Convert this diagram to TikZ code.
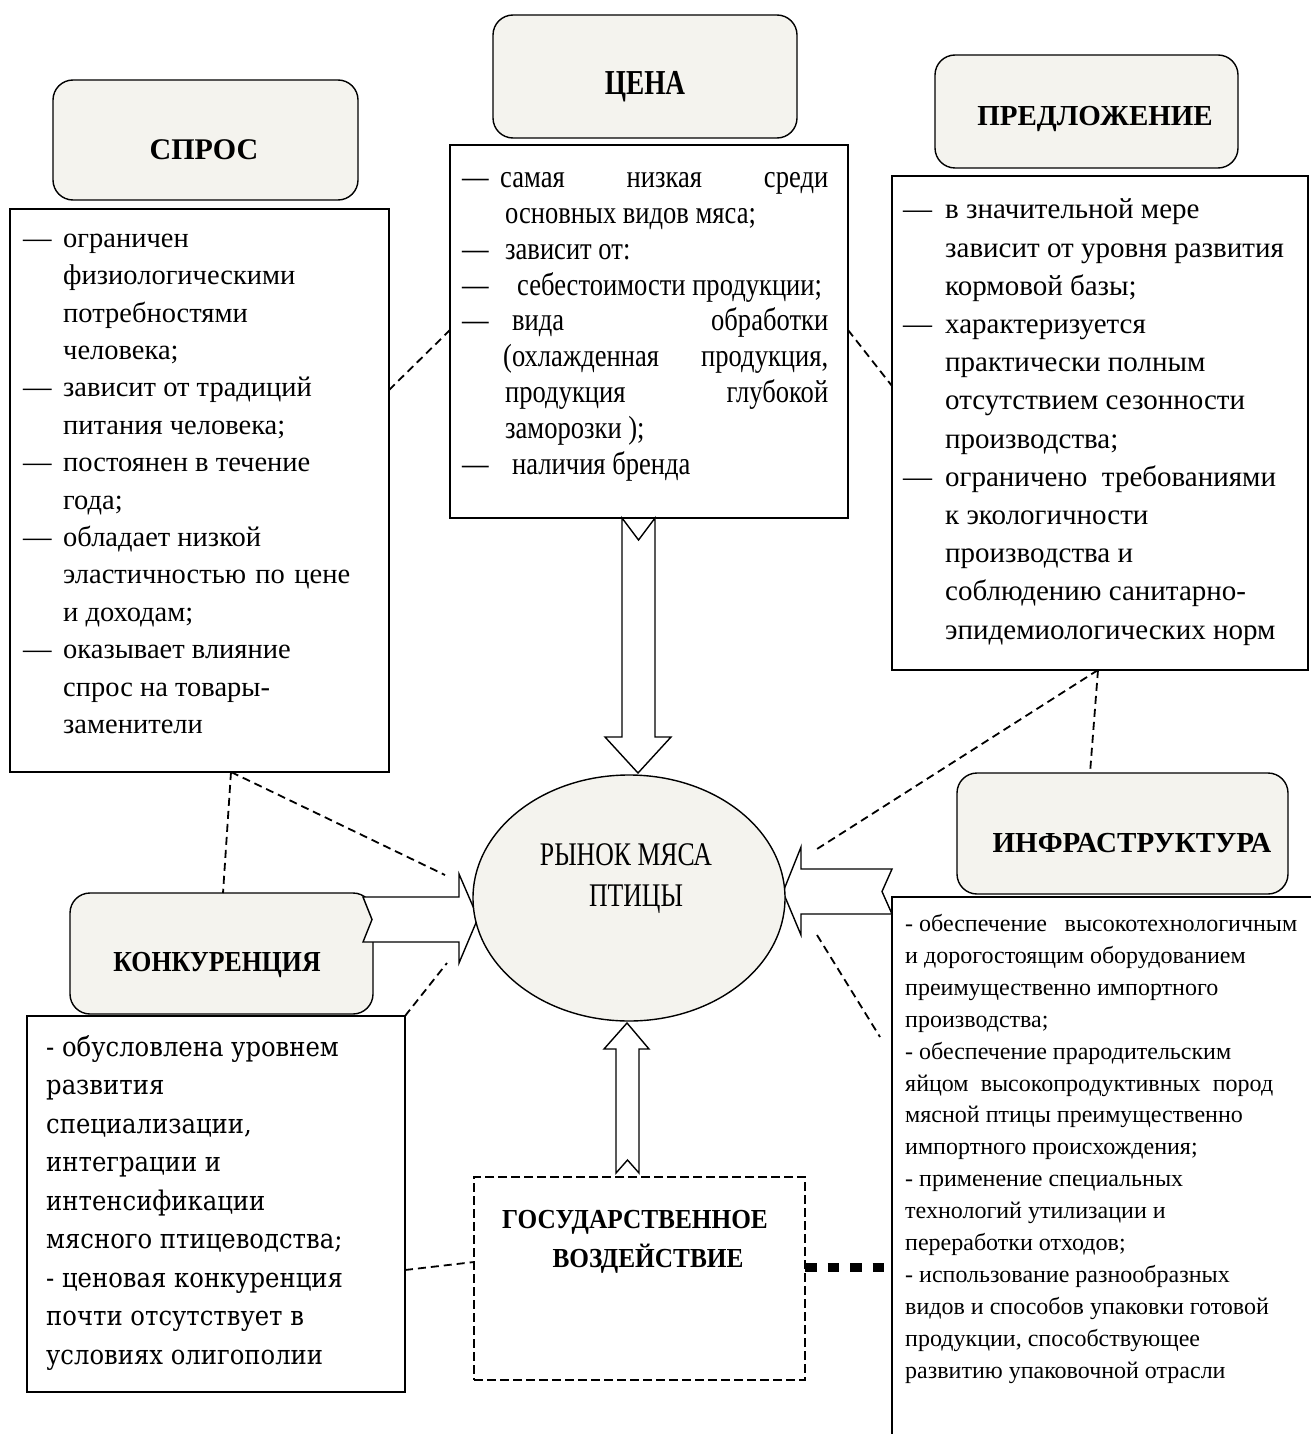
\documentclass[tikz,border=0pt]{standalone}
\usepackage{fontspec}
\setmainfont{Liberation Serif}
\newfontfamily\cenafont{Liberation Serif}[FakeStretch=0.83]
\newfontfamily\ellfont{Liberation Serif}[FakeStretch=0.78]
\newfontfamily\condA{Liberation Serif}[FakeStretch=0.78]
\newfontfamily\condB{Liberation Serif}[FakeStretch=0.89]
\newfontfamily\condC{Liberation Serif}[FakeStretch=0.92]
\newfontfamily\cambr{DejaVu Serif}[FakeStretch=0.9]
\usetikzlibrary{shapes.geometric}
\definecolor{hdrfill}{RGB}{244,243,238}
\begin{document}
\begin{tikzpicture}[x=1pt,y=-1pt,
  hdr/.style={draw, line width=1.4pt, rounded corners=20pt, fill=hdrfill, inner sep=0pt},
  lbox/.style={draw, line width=1.4pt, fill=white, inner sep=0pt},
  txt/.style={inner sep=0pt, anchor=north west, align=left},
  htxt/.style={inner sep=0pt},
  dline/.style={line width=1.8pt, dash pattern=on 8pt off 5pt},
  barrow/.style={draw, line width=1.4pt, fill=white, line join=miter},
]
\useasboundingbox[fill=white] (0,0) rectangle (1310,1434);

% ---------- boxes ----------
\node[lbox, minimum width=379pt, minimum height=563pt] (sprosL) at (199.5,490.5) {};
\node[hdr, minimum width=305pt, minimum height=120pt] (sprosH) at (205.5,140) {};
\node[lbox, minimum width=398pt, minimum height=373pt] (cenaL) at (649,331.5) {};
\node[hdr, minimum width=304pt, minimum height=123pt] (cenaH) at (645,76.5) {};
\node[lbox, minimum width=416pt, minimum height=494pt] (predL) at (1100,423) {};
\node[hdr, minimum width=303pt, minimum height=113pt] (predH) at (1086.5,111.5) {};
\node[lbox, minimum width=428pt, minimum height=553pt] (infL) at (1106,1173.5) {};
\node[hdr, minimum width=331pt, minimum height=121pt] (infH) at (1122.5,833.5) {};
\node[lbox, minimum width=378pt, minimum height=376pt] (konL) at (216,1204) {};
\node[hdr, minimum width=303pt, minimum height=121pt] (konH) at (221.5,953.5) {};
\node[draw, line width=2.2pt, dash pattern=on 9pt off 4pt, fill=white, inner sep=0pt,
      minimum width=331pt, minimum height=203pt] (gos) at (639.5,1278.5) {};

% ---------- header texts ----------
\node[htxt, font=\bfseries\fontsize{30}{30}\selectfont] (sprosHT) at (204,150) {СПРОС};
\node[htxt, font=\condA\bfseries\fontsize{35}{35}\selectfont] (cenaHT) at (645,87) {ЦЕНА};
\node[htxt, font=\bfseries\fontsize{29}{29}\selectfont] (predHT) at (1095,119) {ПРЕДЛОЖЕНИЕ};
\node[htxt, font=\bfseries\fontsize{29}{29}\selectfont] (infHT) at (1132,843) {ИНФРАСТРУКТУРА};
\node[htxt, font=\condB\bfseries\fontsize{29}{29}\selectfont] (konHT) at (217,965) {КОНКУРЕНЦИЯ};
\node[htxt, anchor=base, font=\condC\bfseries\fontsize{27.5}{27.5}\selectfont] (gosT1) at (635,1228) {ГОСУДАРСТВЕННОЕ};
\node[htxt, anchor=base, font=\condC\bfseries\fontsize{27.5}{27.5}\selectfont] (gosT2) at (648,1267) {ВОЗДЕЙСТВИЕ};

% ---------- list texts ----------
\node[txt, font=\fontsize{28.5}{37.4}\selectfont] (sprosT) at (23,221) {%
\strut\makebox[40pt][l]{—}ограничен\\
\hspace*{40pt}физиологическими\\
\hspace*{40pt}потребностями\\
\hspace*{40pt}человека;\\
\makebox[40pt][l]{—}зависит от традиций\\
\hspace*{40pt}питания человека;\\
\makebox[40pt][l]{—}постоянен в течение\\
\hspace*{40pt}года;\\
\makebox[40pt][l]{—}обладает низкой\\
\hspace*{40pt}\makebox[287pt][s]{эластичностью\hfill по\hfill цене}\\
\hspace*{40pt}и доходам;\\
\makebox[40pt][l]{—}оказывает влияние\\
\hspace*{40pt}спрос на товары-\\
\hspace*{40pt}заменители};

\node[txt, font=\cenafont\fontsize{32}{35.9}\selectfont] (cenaT) at (462,162) {%
\strut\makebox[38pt][l]{—}\makebox[328pt][s]{самая\hfill низкая\hfill среди}\\
\hspace*{43pt}основных видов мяса;\\
\makebox[43pt][l]{—}зависит от:\\
\makebox[55pt][l]{—}себестоимости продукции;\\
\makebox[50pt][l]{—}\makebox[316pt][s]{вида\hfill обработки}\\
\hspace*{41pt}\makebox[325pt][s]{(охлажденная\hfill продукция,}\\
\hspace*{43pt}\makebox[323pt][s]{продукция\hfill глубокой}\\
\hspace*{43pt}заморозки );\\
\makebox[50pt][l]{—}наличия бренда};

\node[txt, font=\fontsize{29}{38.2}\selectfont] (predT) at (903,192) {%
\strut\makebox[42pt][l]{—}в значительной мере\\
\hspace*{42pt}зависит от уровня развития\\
\hspace*{42pt}кормовой базы;\\
\makebox[42pt][l]{—}характеризуется\\
\hspace*{42pt}практически полным\\
\hspace*{42pt}отсутствием сезонности\\
\hspace*{42pt}производства;\\
\makebox[42pt][l]{—}ограничено\ \ требованиями\\
\hspace*{42pt}к экологичности\\
\hspace*{42pt}производства и\\
\hspace*{42pt}соблюдению санитарно-\\
\hspace*{42pt}эпидемиологических норм};

\node[txt, font=\cambr\fontsize{27}{38.5}\selectfont] (konT) at (46,1029) {%
\strut- обусловлена уровнем\\
развития\\
специализации,\\
интеграции и\\
интенсификации\\
мясного птицеводства;\\
- ценовая конкуренция\\
почти отсутствует в\\
условиях олигополии};

\node[txt, font=\fontsize{24}{31.9}\selectfont] (infT) at (905,909) {%
\strut\makebox[392pt][s]{-\ обеспечение\hfill высокотехнологичным}\\
и дорогостоящим оборудованием\\
преимущественно импортного\\
производства;\\
- обеспечение прародительским\\
\makebox[368pt][s]{яйцом\hfill высокопродуктивных\hfill пород}\\
мясной птицы преимущественно\\
импортного происхождения;\\
- применение специальных\\
технологий утилизации и\\
переработки отходов;\\
- использование разнообразных\\
видов и способов упаковки готовой\\
продукции, способствующее\\
развитию упаковочной отрасли};

% ---------- connector end points ----------
\coordinate (d1a) at (389,390);  \coordinate (d1b) at (450,330);
\coordinate (d2a) at (848,330);  \coordinate (d2b) at (892,386);
\coordinate (d3a) at (231,772);  \coordinate (d3b) at (223,893);
\coordinate (d4b) at (445,875);
\coordinate (d5a) at (405,1016); \coordinate (d5b) at (447,963);
\coordinate (d6a) at (405,1270); \coordinate (d6b) at (474,1262);
\coordinate (d7a) at (1098,670); \coordinate (d7b) at (817,849);
\coordinate (d8b) at (1090,773);
\coordinate (d9a) at (817,935);  \coordinate (d9b) at (880,1037);
\coordinate (d10a) at (805,1267); \coordinate (d10b) at (886,1267);

% ---------- dashed connectors ----------
\draw[dline] (d1a) -- (d1b);
\draw[dline] (d2a) -- (d2b);
\draw[dline] (d3a) -- (d3b);
\draw[dline] (d3a) -- (d4b);
\draw[dline] (d5a) -- (d5b);
\draw[dline] (d6a) -- (d6b);
\draw[dline] (d7a) -- (d7b);
\draw[dline] (d7a) -- (d8b);
\draw[dline] (d9a) -- (d9b);
\draw[line width=9pt, dash pattern=on 11.5pt off 11pt] (d10a) -- (d10b);

% ---------- block arrows ----------
\draw[barrow] (622,518) -- (622,737) -- (605,737) -- (638,773) -- (671,737) -- (655,737) -- (655,518) -- (638.5,540) -- cycle;
\draw[barrow] (363,897) -- (459,897) -- (459,874) -- (478,918) -- (459,963) -- (459,942) -- (363,942) -- (372,919.5) -- cycle;
\draw[barrow] (892,869) -- (801,869) -- (801,847) -- (783,892) -- (801,935) -- (801,914) -- (892,914) -- (882,891.5) -- cycle;
\draw[barrow] (616,1173) -- (616,1049) -- (604,1049) -- (627,1023) -- (649,1049) -- (639,1049) -- (639,1173) -- (627.5,1160) -- cycle;

% ---------- centre ----------
\node[ellipse, draw, line width=1.4pt, fill=hdrfill, inner sep=0pt,
      minimum width=312pt, minimum height=246pt] (market) at (629,898) {};
\node[htxt, anchor=base, font=\ellfont\fontsize{33}{33}\selectfont] (mkT1) at (626,865) {РЫНОК МЯСА};
\node[htxt, anchor=base, font=\ellfont\fontsize{33}{33}\selectfont] (mkT2) at (636,906) {ПТИЦЫ};
\end{tikzpicture}
\end{document}
